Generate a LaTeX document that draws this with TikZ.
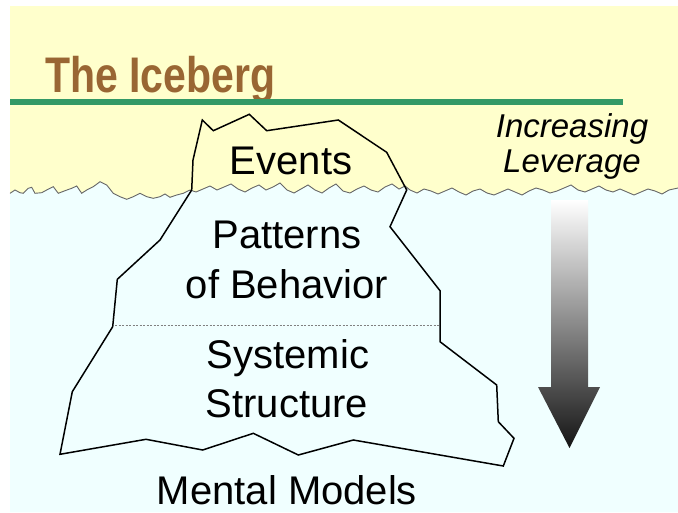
\documentclass[tikz,border=0pt]{standalone}
\usepackage{fontspec}
\setmainfont{Liberation Sans}
\usepackage{graphicx}
\definecolor{skyyellow}{HTML}{FFFFCC}
\definecolor{seawater}{HTML}{F0FFFF}
\definecolor{titlebrown}{HTML}{996633}
\definecolor{rulegreen}{HTML}{339966}
\begin{document}
\begin{tikzpicture}[x=1pt,y=-1pt,
  label40/.style={font=\fontsize{40}{48}\selectfont, anchor=base, inner sep=0pt},
  sidelabel/.style={font=\fontsize{33}{40}\selectfont\itshape, anchor=base, inner sep=0pt},
  bergline/.style={black, line width=1.5pt, line join=miter},
  waveline/.style={black!60, line width=0.9pt}]
\useasboundingbox (0,0) rectangle (678,512);
\fill[white] (0,0) rectangle (678,512);
% wavy sea surface
\def\wave{(10,193.3) -- (15,190) -- (20,192.7) -- (23.3,193.3) -- (28.3,188.3) -- (31.7,187.3) -- (35,193.3) -- (41.7,192.7) -- (46.7,190) -- (53.3,186.7) -- (58.3,193.3) -- (65,190.7) -- (71.7,188.3) -- (76.7,186) -- (81.7,193.3) -- (86.7,190) -- (93.3,186.7) -- (100,181.7) -- (106.7,185) -- (113.3,193.3) -- (120,196.7) -- (126.7,199.3) -- (133.3,196.7) -- (140,193.3) -- (146.7,196.7) -- (153.3,198.3) -- (160,196.7) -- (165,194) -- (170,197.3) -- (176.7,195) -- (183.3,193.3) -- (190,190) -- (196,192) -- (203,189) -- (210,186) -- (217,190) -- (224,187) -- (231,184) -- (238,189) -- (245,192) -- (252,188) -- (259,185) -- (266,190) -- (273,187) -- (280,183) -- (287,190) -- (294,193) -- (301,189) -- (308,185) -- (315,190) -- (322,193) -- (329,188) -- (336,184) -- (343,191) -- (350,193) -- (357,189) -- (364,186) -- (371,190) -- (378,192) -- (385,187) -- (392,184) -- (399,189) -- (405,186) -- (410,190) -- (417,193) -- (424,189) -- (431,191) -- (438,194) -- (445,191) -- (452,188) -- (459,192) -- (466,195) -- (473,191) -- (480,189) -- (487,193) -- (494,195) -- (501,192) -- (508,189) -- (515,192) -- (522,195) -- (529,191) -- (536,188) -- (543,190) -- (550,193) -- (557,191) -- (564,188) -- (571,185) -- (578,190) -- (585,192) -- (592,189) -- (599,186) -- (606,190) -- (613,192) -- (620,189) -- (627,192) -- (634,195) -- (641,192) -- (648,189) -- (655,191) -- (662,194) -- (669,190) -- (678,188)}
\fill[skyyellow] (10,6) rectangle (678,205);
\fill[seawater] \wave -- (678,512) -- (10,512) -- cycle;
\draw[waveline] \wave;
% title and rule
\node[anchor=base west, inner sep=0pt, text=titlebrown, font=\fontsize{41}{48}\selectfont\bfseries]
  (title) at (45,92.7) {\scalebox{1}[1.22]{The Iceberg}};
\draw[rulegreen, line width=5.5pt] (10,102) -- (623,102);
% iceberg outline
\draw[bergline] (202.3,120) -- (213.3,130.7) -- (249.3,114.3) -- (266.7,130.7) -- (338.3,120)
  -- (386.7,152.3) -- (406.7,190) -- (390,226.7) -- (440,290.7) -- (440,341.7)
  -- (496.7,385) -- (498.3,421.7) -- (514,438.3) -- (503.3,466) -- (353.3,440)
  -- (298.3,455) -- (253.3,433.3) -- (202.7,450) -- (146,439.3) -- (60,454.3)
  -- (72.3,391.7) -- (112.7,326.7) -- (117.3,279.3) -- (160,240) -- (191.7,190)
  -- (193,160) -- cycle;
\draw[black!50, line width=0.6pt, dash pattern=on 2pt off 1.5pt] (115,325) -- (440,325);
% layer labels
\node[label40] (events) at (291,174) {Events};
\node[label40] (patterns) at (287,248) {Patterns};
\node[label40] (behavior) at (287,298) {of Behavior};
\node[label40] (systemic) at (288,368) {Systemic};
\node[label40] (structure) at (287,417) {Structure};
\node[label40] (mental) at (287,504) {Mental Models};
% leverage arrow
\node[sidelabel] (increasing) at (572,137) {Increasing};
\node[sidelabel] (leverage) at (572,172) {Leverage};
\shade[top color=white, bottom color=black!92, draw=none]
  (551,200) -- (588,200) -- (588,387) -- (600,387) -- (569.5,448) -- (538,387) -- (551,387) -- cycle;
\end{tikzpicture}
\end{document}
